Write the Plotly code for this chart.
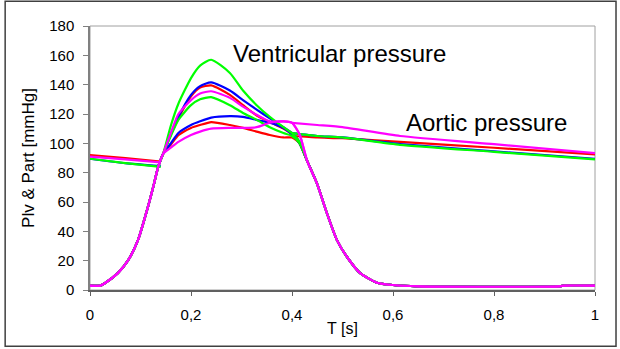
import plotly.graph_objects as go

# ---- data ----
# shared ventricular rise (all curves coincide)
t_rise = [0.0, 0.02, 0.03, 0.055, 0.075, 0.095, 0.115, 0.125, 0.135, 0.145]
p_rise = [3, 3, 4.8, 11.5, 20, 34, 57, 70, 84, 93]

# ejection phase, one list per curve
t_eject = [0.16, 0.175, 0.2, 0.218, 0.24, 0.277, 0.303, 0.33, 0.356, 0.383, 0.40, 0.415]
green_high = [112, 127, 144.5, 153, 157, 148, 136, 126, 118, 111, 107, 101]
blue_high = [106, 118, 133, 139, 141.5, 136, 129.5, 123, 117, 111, 107, 101]
red_high = [106, 117, 132, 138, 139.5, 133, 126, 119, 114.5, 110, 106, 100]
magenta_high = [107, 120, 129.5, 134, 135.5, 131, 125, 119.5, 115, 115, 114, 106]
green_low = [105, 116, 126, 130, 131.5, 126, 120.7, 116, 111, 107, 105, 100]
blue_low = [100, 107, 112.5, 115, 117.5, 118.5, 118, 116, 114, 110.5, 106, 100]
red_low = [99, 105.5, 110.5, 112.5, 114.5, 112.5, 110.5, 108, 105.7, 104, 104, 100]
magenta_low = [97, 101, 105.7, 108, 110, 110.5, 110.5, 111, 114, 115, 114, 106]

# shared ventricular relaxation
t_fall = [0.43, 0.449, 0.469, 0.489, 0.509, 0.535, 0.568, 0.6, 0.65, 0.93, 0.94, 1.0]
p_fall = [88, 73, 52.5, 34, 22.5, 11.5, 5, 3.4, 2.5, 2.5, 3, 3]

# aortic pressure before valve opening
t_pre = [0.0, 0.07, 0.14]
red_pre = [92, 90, 87.5]
blue_pre = [89.5, 86.5, 84.5]
green_pre = [89.5, 86.5, 84]
magenta_pre = [91, 89, 87]

# aortic pressure after valve closure
t_post = [0.40, 0.45, 0.5, 0.614, 0.8, 1.0]
red_post = [105, 104, 103.5, 101, 97, 92.5]
blue_post = [107, 105, 104, 99.5, 94.5, 89.5]
green_post = [107, 105, 104, 99, 94.2, 89]
magenta_post = [114, 112.5, 111, 105, 99.4, 93.3]

x_ticks = [0, 0.2, 0.4, 0.6, 0.8, 1.0]
x_tick_labels = ["0", "0,2", "0,4", "0,6", "0,8", "1"]

colors = {"red": "#FF0000", "blue": "#0000FF", "green": "#00FF00", "magenta": "#FF00FF"}

series = [
    ("red", [red_high, red_low], red_pre, red_post),
    ("blue", [blue_high, blue_low], blue_pre, blue_post),
    ("green", [green_high, green_low], green_pre, green_post),
    ("magenta", [magenta_high, magenta_low], magenta_pre, magenta_post),
]

fig = go.Figure()
for name, lv_list, pre, post in series:
    c = colors[name]
    fig.add_trace(go.Scatter(x=t_pre + [None] + t_post, y=pre + [None] + post,
                             mode="lines", line=dict(color=c, width=2.2, shape="spline", smoothing=0.5),
                             connectgaps=False, showlegend=False, hoverinfo="skip"))
    for lv in lv_list:
        fig.add_trace(go.Scatter(x=t_rise + t_eject + t_fall, y=p_rise + lv + p_fall,
                                 mode="lines", line=dict(color=c, width=2.2, shape="spline", smoothing=0.6),
                                 showlegend=False, hoverinfo="skip"))

FAM = "Liberation Sans, Arial, sans-serif"
tick_font = dict(family=FAM, size=15, color="#000000")
xtitle_font = dict(family=FAM, size=16, color="#000000")
ytitle_font = dict(family=FAM, size=17, color="#000000")

fig.update_layout(
    width=620, height=349,
    margin=dict(l=90, r=25, t=26, b=59),
    paper_bgcolor="white", plot_bgcolor="white",
    separators=",.",
    font=tick_font,
    xaxis=dict(range=[0, 1], tickvals=x_ticks, ticktext=x_tick_labels,
               showgrid=False, zeroline=False, showline=True, linecolor="#606060", linewidth=1.5,
               ticks="outside", ticklen=4, tickcolor="#606060", ticklabelstandoff=6,
               title=dict(text="T [s]", font=xtitle_font, standoff=1), tickfont=tick_font),
    yaxis=dict(range=[0, 180], dtick=20, showgrid=False, zeroline=False, showline=True,
               linecolor="#808080", linewidth=1.5, ticks="outside", ticklen=5, tickcolor="#808080",
               ticklabelstandoff=6,
               title=dict(text="Plv & Part [mmHg]", font=ytitle_font, standoff=10), tickfont=tick_font),
    shapes=[
        dict(type="rect", xref="paper", yref="paper", x0=0, y0=0, x1=1, y1=1,
             line=dict(color="#A0A0A0", width=1), layer="below"),
        dict(type="rect", xref="paper", yref="paper", x0=-0.168, y0=-0.213, x1=1.0416, y1=1.094,
             line=dict(color="#404040", width=1.5)),
    ],
    annotations=[
        dict(x=0.495, y=161.5, xref="x", yref="y", text="Ventricular pressure", showarrow=False,
             font=dict(family=FAM, size=24, color="#000000")),
        dict(x=0.786, y=114.5, xref="x", yref="y", text="Aortic pressure", showarrow=False,
             font=dict(family=FAM, size=24, color="#000000")),
    ],
)

fig.write_html("out.html")
